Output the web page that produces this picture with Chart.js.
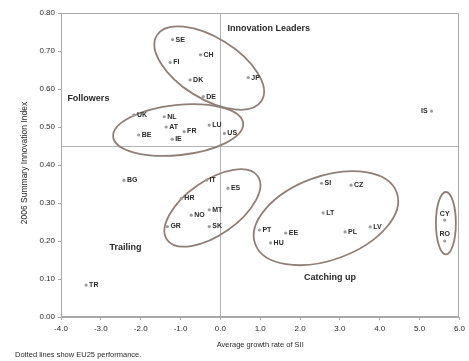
<!DOCTYPE html>
<html>
<head>
<meta charset="utf-8">
<script src="https://cdn.jsdelivr.net/npm/chart.js@4/dist/chart.umd.min.js"></script>
<style>
  html, body { margin: 0; padding: 0; background: #ffffff; }
  #wrap { width: 469px; height: 361px; }
</style>
</head>
<body>
<div id="wrap"><canvas id="c" width="469" height="361"></canvas></div>
<script>
// Country codes, average SII growth rate (x) and 2006 Summary Innovation Index (y)
const countries = ['SE', 'CH', 'FI', 'DK', 'DE', 'JP',
                   'UK', 'NL', 'AT', 'BE', 'FR', 'IE', 'LU', 'US',
                   'IT', 'ES', 'HR', 'MT', 'NO', 'GR', 'SK', 'BG', 'TR',
                   'SI', 'CZ', 'LT', 'PL', 'LV', 'PT', 'EE', 'HU',
                   'CY', 'RO', 'IS'];
const growth = [-1.2, -0.5, -1.26, -0.76, -0.43, 0.7,
                -2.17, -1.41, -1.36, -2.05, -0.91, -1.21, -0.28, 0.1,
                -0.35, 0.19, -0.98, -0.28, -0.73, -1.33, -0.28, -2.42, -3.37,
                2.54, 3.28, 2.58, 3.13, 3.76, 0.98, 1.64, 1.26,
                5.63, 5.63, 5.3];
const sii = [0.73, 0.69, 0.67, 0.624, 0.58, 0.63,
             0.532, 0.527, 0.50, 0.479, 0.488, 0.468, 0.505, 0.483,
             0.36, 0.339, 0.312, 0.282, 0.268, 0.238, 0.238, 0.36, 0.084,
             0.352, 0.347, 0.274, 0.224, 0.237, 0.229, 0.221, 0.195,
             0.255, 0.20, 0.542];

// Axis ticks
const xTickValues = [-4, -3, -2, -1, 0, 1, 2, 3, 4, 5, 6];
const yTickValues = [0, 0.1, 0.2, 0.3, 0.4, 0.5, 0.6, 0.7, 0.8];

// EU reference levels
const euGrowth = 0.0;
const euSII = 0.45;

// Group names
const groupNames = ['Innovation Leaders', 'Followers', 'Trailing', 'Catching up'];

// ---- drawing settings ----
const labelSide = { IS: 'left', CY: 'top', RO: 'top' };
const groupAnchors = [[0.18, 0.758], [-3.84, 0.576], [-2.78, 0.184], [2.1, 0.105]];
// ellipse: centre (data units), half axes (x units, y units), clockwise rotation (deg)
const ellipses = [
  { cx: -0.28, cy: 0.655, ax: 1.55, by: 0.08,  rot: 32 },
  { cx: -1.06, cy: 0.492, ax: 1.64, by: 0.066, rot: -6 },
  { cx: -0.2,  cy: 0.287, ax: 1.39, by: 0.071, rot: -35 },
  { cx: 2.65,  cy: 0.26,  ax: 1.89, by: 0.11,  rot: -20 },
  { cx: 5.66,  cy: 0.247, ax: 0.25, by: 0.082, rot: 0 }
];

const FONT = '"Liberation Sans", Arial, sans-serif';
const TEXT = '#2a2a2a';

const points = countries.map((c, i) => ({ x: growth[i], y: sii[i], label: c }));

const decor = {
  id: 'decor',
  beforeDraw(chart) {
    const ctx = chart.ctx;
    ctx.save();
    ctx.fillStyle = '#ffffff';
    ctx.fillRect(0, 0, chart.width, chart.height);
    ctx.restore();
  },
  beforeDatasetsDraw(chart) {
    const { ctx, chartArea: a, scales: { x, y } } = chart;
    ctx.save();
    ctx.beginPath();
    ctx.rect(a.left, a.top, a.right - a.left, a.bottom - a.top);
    ctx.clip();
    // EU reference lines
    ctx.strokeStyle = '#b3b3b3';
    ctx.lineWidth = 1;
    const px = Math.round(x.getPixelForValue(euGrowth)) + 0.5;
    const py = Math.round(y.getPixelForValue(euSII)) + 0.5;
    ctx.beginPath();
    ctx.moveTo(px, a.top); ctx.lineTo(px, a.bottom);
    ctx.moveTo(a.left, py); ctx.lineTo(a.right, py);
    ctx.stroke();
    // group ellipses
    ctx.strokeStyle = '#8f7f78';
    ctx.lineWidth = 1.8;
    ellipses.forEach(e => {
      const cx = x.getPixelForValue(e.cx);
      const cy = y.getPixelForValue(e.cy);
      const rx = Math.abs(x.getPixelForValue(e.cx + e.ax) - cx);
      const ry = Math.abs(y.getPixelForValue(e.cy + e.by) - cy);
      ctx.beginPath();
      ctx.ellipse(cx, cy, rx, ry, e.rot * Math.PI / 180, 0, Math.PI * 2);
      ctx.stroke();
    });
    ctx.restore();
  },
  afterDatasetsDraw(chart) {
    const { ctx, scales: { x, y } } = chart;
    ctx.save();
    ctx.fillStyle = TEXT;
    ctx.font = 'bold 7px ' + FONT;
    points.forEach(p => {
      const px = x.getPixelForValue(p.x);
      const py = y.getPixelForValue(p.y);
      const side = labelSide[p.label] || 'right';
      if (side === 'left') {
        ctx.textAlign = 'right'; ctx.textBaseline = 'middle';
        ctx.fillText(p.label, px - 4, py);
      } else if (side === 'top') {
        ctx.textAlign = 'center'; ctx.textBaseline = 'bottom';
        ctx.fillText(p.label, px, py - 3);
      } else {
        ctx.textAlign = 'left'; ctx.textBaseline = 'middle';
        ctx.fillText(p.label, px + 3, py);
      }
    });
    ctx.font = 'bold 9px ' + FONT;
    ctx.textAlign = 'left';
    ctx.textBaseline = 'middle';
    groupNames.forEach((g, i) => {
      ctx.fillText(g, x.getPixelForValue(groupAnchors[i][0]), y.getPixelForValue(groupAnchors[i][1]));
    });
    ctx.restore();
  },
  afterDraw(chart) {
    const { ctx, chartArea: a } = chart;
    ctx.save();
    // frame
    ctx.strokeStyle = '#a9a9a9';
    ctx.lineWidth = 1;
    ctx.strokeRect(Math.round(a.left) + 0.5, Math.round(a.top) + 0.5,
                   Math.round(a.right - a.left) - 1, Math.round(a.bottom - a.top) - 1);
    // axis titles
    ctx.fillStyle = TEXT;
    ctx.font = '7.5px ' + FONT;
    ctx.textAlign = 'center';
    ctx.textBaseline = 'middle';
    ctx.fillText('Average growth rate of SII', (a.left + a.right) / 2, 345);
    ctx.font = '8.5px ' + FONT;
    ctx.translate(25, 163);
    ctx.rotate(-Math.PI / 2);
    ctx.fillText('2006 Summary Innovation Index', 0, 0);
    ctx.restore();
    ctx.save();
    ctx.fillStyle = TEXT;
    ctx.font = '7.5px ' + FONT;
    ctx.textAlign = 'left';
    ctx.textBaseline = 'middle';
    ctx.fillText('Dotted lines show EU25 performance.', 15, 355);
    ctx.restore();
  }
};

new Chart(document.getElementById('c'), {
  type: 'scatter',
  data: {
    datasets: [{
      data: points,
      pointRadius: 1.6,
      pointHoverRadius: 1.6,
      pointBackgroundColor: '#9c9c9c',
      pointBorderWidth: 0
    }]
  },
  options: {
    responsive: false,
    animation: false,
    devicePixelRatio: 1,
    layout: { padding: { left: 0, right: 7, top: 13, bottom: 0 } },
    plugins: { legend: { display: false }, tooltip: { enabled: false } },
    scales: {
      x: {
        type: 'linear',
        min: xTickValues[0],
        max: xTickValues[xTickValues.length - 1],
        afterBuildTicks: s => { s.ticks = xTickValues.map(v => ({ value: v })); },
        afterFit: s => { s.height = 44; },
        ticks: {
          callback: v => v.toFixed(1),
          font: { size: 8, family: FONT },
          color: TEXT,
          padding: 4,
          maxRotation: 0
        },
        grid: { drawOnChartArea: false, drawTicks: true, tickLength: 3, color: '#a9a9a9' },
        border: { display: true, color: '#a9a9a9' }
      },
      y: {
        type: 'linear',
        min: yTickValues[0],
        max: yTickValues[yTickValues.length - 1],
        afterBuildTicks: s => { s.ticks = yTickValues.map(v => ({ value: v })); },
        afterFit: s => { s.width = 61; },
        ticks: {
          callback: v => v.toFixed(2),
          font: { size: 8, family: FONT },
          color: TEXT,
          padding: 3
        },
        grid: { drawOnChartArea: false, drawTicks: true, tickLength: 3, color: '#a9a9a9' },
        border: { display: true, color: '#a9a9a9' }
      }
    }
  },
  plugins: [decor]
});
</script>
</body>
</html>
